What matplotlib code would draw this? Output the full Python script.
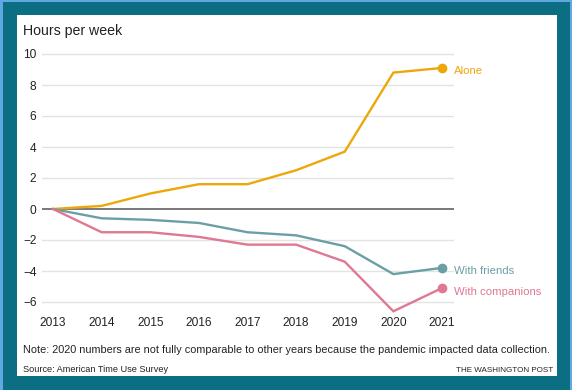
import matplotlib
matplotlib.use("Agg")
import matplotlib.pyplot as plt
from matplotlib.patches import Rectangle

years = [2013, 2014, 2015, 2016, 2017, 2018, 2019, 2020, 2021]
alone = [0, 0.2, 1.0, 1.6, 1.6, 2.5, 3.7, 8.8, 9.1]
friends = [0, -0.6, -0.7, -0.9, -1.5, -1.7, -2.4, -4.2, -3.8]
companions = [0, -1.5, -1.5, -1.8, -2.3, -2.3, -3.4, -6.6, -5.1]
yticks = [-6, -4, -2, 0, 2, 4, 6, 8, 10]

c_alone = "#eea70a"
c_friends = "#6b9fa6"
c_comp = "#df7892"

plt.rcParams['font.family'] = ['Liberation Sans', 'DejaVu Sans']
W, H = 572, 390
fig = plt.figure(figsize=(W / 100, H / 100), dpi=100)
fig.patch.set_facecolor("#0c6e83")

def px(x0, y0, w, h, **kw):
    r = Rectangle((x0 / W, 1 - (y0 + h) / H), w / W, h / H,
                  transform=fig.transFigure, zorder=-10, **kw)
    fig.patches.append(r)

# light blue outer edges
px(0, 0, 3, H, facecolor="#62a8e0", edgecolor="none")
px(0, 0, W, 1.5, facecolor="#62a8e0", edgecolor="none")
px(W - 2, 0, 2, H, facecolor="#62a8e0", edgecolor="none")
# white panel
px(17, 15, 540, 361, facecolor="white", edgecolor="none")

def fy(y):
    return 1 - y / H

# axes position
ylo, yhi = -7.0, 10.3
y0pix = 209
ppu = 15.5
top_pix = y0pix - ppu * yhi
bot_pix = y0pix - ppu * ylo
ax = fig.add_axes([42 / W, 1 - bot_pix / H, 412 / W, (bot_pix - top_pix) / H])
ax.set_facecolor("none")
ax.set_zorder(5)
ax.set_ylim(ylo, yhi)
xl = 2013 - 11 / 48.6
xr = 2021 + 12 / 48.6
ax.set_xlim(xl, xr)

for s in ax.spines.values():
    s.set_visible(False)
for t in yticks:
    if t == 0:
        ax.axhline(0, color="#555555", lw=1.1, zorder=2)
    else:
        ax.axhline(t, color="#e3e3e3", lw=1.0, zorder=1)

ax.set_yticks(yticks)
ax.set_yticklabels([f"{t}".replace("-", "\u2212") for t in yticks])
ax.set_xticks(years)
ax.set_xticklabels([str(y) for y in years])
ax.tick_params(length=0, labelsize=8.6, colors="#222222")
ax.tick_params(axis="y", pad=4)
ax.tick_params(axis="x", pad=0)

for data, col in [(alone, c_alone), (friends, c_friends), (companions, c_comp)]:
    ax.plot(years, data, color=col, lw=1.7, zorder=3, solid_joinstyle="miter")
    ax.plot([years[-1]], [data[-1]], "o", color=col, ms=6, zorder=4)

for data, col, lab in [(alone, c_alone, "Alone"), (friends, c_friends, "With friends"),
                       (companions, c_comp, "With companions")]:
    ax.annotate(lab, (years[-1], data[-1]), xytext=(8.6, -2.5), textcoords="offset points",
                color=col, fontsize=8.2, va="center", ha="left", annotation_clip=False)

fig.text(23 / W, fy(31), "Hours per week", fontsize=10.2, color="#222222", va="center", ha="left")
fig.text(23 / W, fy(350), "Note: 2020 numbers are not fully comparable to other years because the pandemic impacted data collection.",
         fontsize=7.85, color="#222222", va="center", ha="left")
fig.text(23 / W, fy(370), "Source: American Time Use Survey", fontsize=6.6, color="#222222",
         va="center", ha="left")
fig.text(553 / W, fy(370), "THE WASHINGTON POST", fontsize=5.8, color="#222222",
         va="center", ha="right")

fig.savefig("out.png", dpi=100)
